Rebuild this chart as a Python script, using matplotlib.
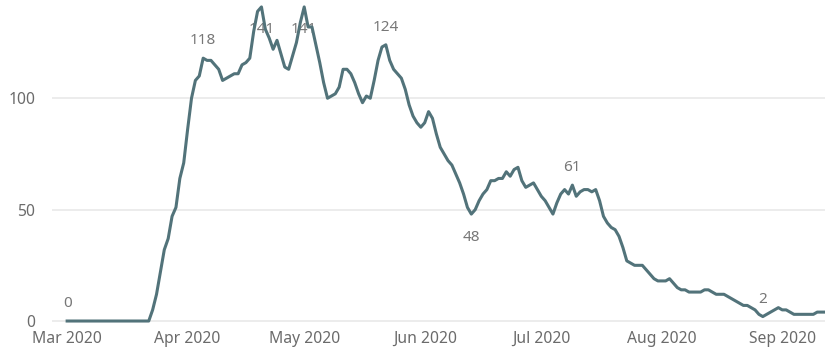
import matplotlib
matplotlib.use('Agg')
import matplotlib.pyplot as plt
import matplotlib.dates as mdates
import pandas as pd
import numpy as np

# Daily values, starting 1 Mar 2020
start_date = '2020-03-01'
values = [0] * 22 + [
    5, 12, 22, 32, 37, 47, 51, 64, 71, 86,
    100, 108, 110, 118, 117, 117, 115, 113, 108, 109,
    110, 111, 111, 115, 116, 118, 130, 139, 141, 131,
    127, 122, 126, 120, 114, 113, 119, 125, 134, 141,
    132, 132, 124, 116, 107, 100, 101, 102, 105, 113,
    113, 111, 107, 102, 98, 101, 100, 108, 117, 123,
    124, 117, 113, 111, 109, 104, 97, 92, 89, 87,
    89, 94, 91, 84, 78, 75, 72, 70, 66, 62,
    57, 51, 48, 50, 54, 57, 59, 63, 63, 64,
    64, 67, 65, 68, 69, 63, 60, 61, 62, 59,
    56, 54, 51, 48, 53, 57, 59, 57, 61, 56,
    58, 59, 59, 58, 59, 54, 47, 44, 42, 41,
    38, 33, 27, 26, 25, 25, 25, 23, 21, 19,
    18, 18, 18, 19, 17, 15, 14, 14, 13, 13,
    13, 13, 14, 14, 13, 12, 12, 12, 11, 10,
    9, 8, 7, 7, 6, 5, 3, 2, 3, 4,
    5, 6, 5, 5, 4, 3, 3, 3, 3, 3,
    3, 4, 4, 4,
]
# which points get a data label, and whether the label sits above or below
label_idx = [0, 35, 50, 61, 82, 104, 130, 179]
label_pos = ['above', 'above', 'inside', 'inside', 'above', 'below', 'above', 'above']
y_ticks = [0, 50, 100]

dates = pd.date_range(start_date, periods=len(values), freq='D')

line_color = '#52737a'
text_color = '#6b6b6b'
plt.rcParams['font.family'] = ['Noto Sans', 'DejaVu Sans']

fig = plt.figure(figsize=(8.25, 3.51), dpi=100)
ax = fig.add_axes([0.063, 0.074, 0.937, 0.912])

ax.plot(dates, values, color=line_color, linewidth=2.2, zorder=3,
        solid_joinstyle='round', clip_on=False)

offsets = {'above': 12.5, 'below': -16.5, 'inside': -16}
for i, pos in zip(label_idx, label_pos):
    ax.annotate(str(values[i]), (dates[i], values[i]),
                xytext=(0, offsets[pos]), textcoords='offset points',
                ha='center', va='center', fontsize=11, color='#777777', zorder=2)

# axes limits so that the plot area lines up with the reference
ax.set_xlim(dates[0] - pd.Timedelta(days=3.9), dates[0] + pd.Timedelta(days=195))
ax.set_ylim(-1.8, 141.9)

ax.set_yticks(y_ticks)
ax.yaxis.grid(True, color='#ececec', linewidth=1.4)
ax.set_axisbelow(True)
ax.xaxis.set_major_locator(mdates.MonthLocator())
ax.xaxis.set_major_formatter(mdates.DateFormatter('%b %Y'))
ax.tick_params(axis='both', length=0, labelsize=11.3, labelcolor=text_color)
ax.tick_params(axis='y', pad=12)
ax.tick_params(axis='x', pad=4)

for side in ['top', 'right', 'left', 'bottom']:
    ax.spines[side].set_visible(False)

plt.savefig('out.png', dpi=100)
